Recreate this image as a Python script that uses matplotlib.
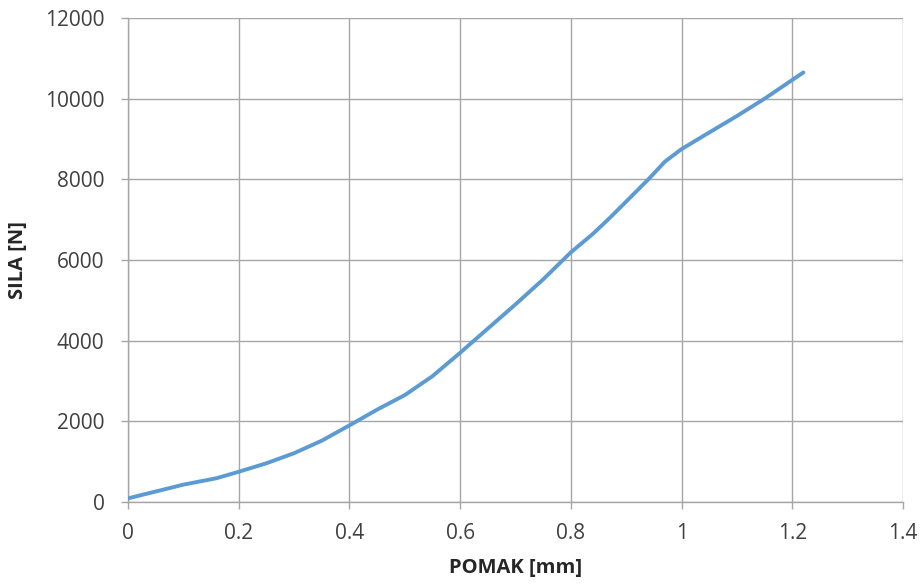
import numpy as np
import matplotlib.pyplot as plt

# Displacement [mm] and force [N]
pomak = [0.0, 0.05, 0.10, 0.16, 0.20, 0.25, 0.30, 0.35, 0.40, 0.45, 0.50,
         0.55, 0.60, 0.65, 0.70, 0.75, 0.80, 0.84, 0.87, 0.90, 0.94, 0.97,
         1.00, 1.04, 1.10, 1.15, 1.22]
sila = [90, 260, 430, 590, 750, 960, 1210, 1520, 1900, 2290, 2650,
        3120, 3700, 4300, 4900, 5520, 6190, 6650, 7040, 7450, 8000, 8440,
        8750, 9080, 9570, 10000, 10650]

xticks = [0, 0.2, 0.4, 0.6, 0.8, 1, 1.2, 1.4]
xlabels = ['0', '0.2', '0.4', '0.6', '0.8', '1', '1.2', '1.4']
yticks = [0, 2000, 4000, 6000, 8000, 10000, 12000]

plt.rcParams['font.family'] = ['Open Sans', 'DejaVu Sans']

fig = plt.figure(figsize=(9.24, 5.86), dpi=100)
ax = fig.add_axes([128/924, 1-502/586, (903-128)/924, (502-18)/586])

ax.plot(pomak, sila, color='#5B9BD5', lw=2.8, solid_capstyle='round',
        solid_joinstyle='round', zorder=3)

ax.set_xlim(0, 1.4)
ax.set_ylim(0, 12000)
ax.set_xticks(xticks)
ax.set_xticklabels(xlabels)
ax.set_yticks(yticks)
ax.grid(True, color='#a6a6a6', lw=1.0)
ax.set_axisbelow(True)

for s in ['top', 'right']:
    ax.spines[s].set_visible(False)
for s in ['left', 'bottom']:
    ax.spines[s].set_color('#a6a6a6')
    ax.spines[s].set_linewidth(1.0)

ax.tick_params(axis='both', length=5, width=1.0, color='#a6a6a6',
               labelsize=15, labelcolor='#404040')
ax.tick_params(axis='y', pad=12)
ax.tick_params(axis='x', pad=10)

ax.set_xlabel('POMAK [mm]', fontsize=14.5, fontweight='bold', color='#262626', labelpad=10)
ax.set_ylabel('SILA [N]', fontsize=14.5, fontweight='bold', color='#262626', labelpad=12)

fig.savefig('out.png', dpi=100)
